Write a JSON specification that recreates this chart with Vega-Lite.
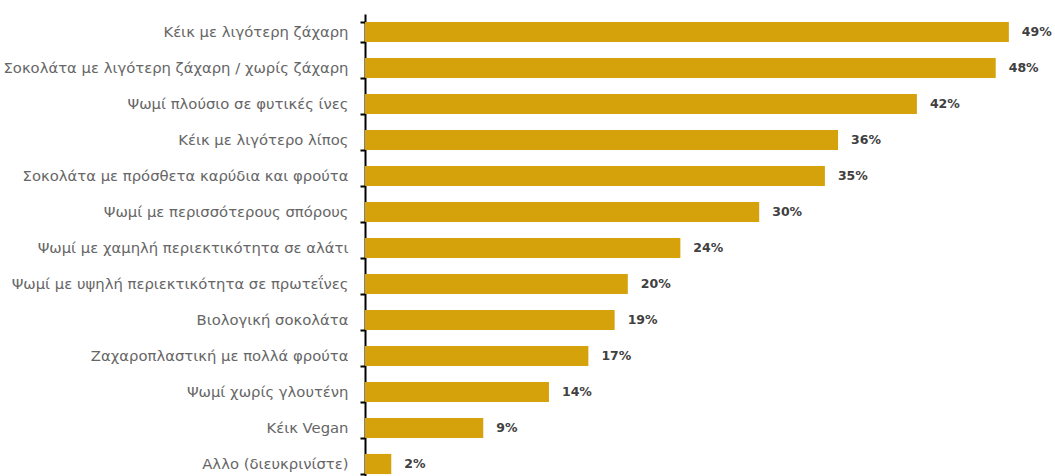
{
  "$schema": "https://vega.github.io/schema/vega-lite/v6.json",
  "autosize": "none",
  "width": 657,
  "height": 462,
  "padding": {"left": 365, "top": 14, "right": 33, "bottom": 0},
  "background": "white",
  "config": {"view": {"stroke": null}},
  "data": {"values": [
    {"label": "Κέικ με λιγότερη ζάχαρη", "value": 49, "pct": "49%"},
    {"label": "Σοκολάτα με λιγότερη ζάχαρη / χωρίς ζάχαρη", "value": 48, "pct": "48%"},
    {"label": "Ψωμί πλούσιο σε φυτικές ίνες", "value": 42, "pct": "42%"},
    {"label": "Κέικ με λιγότερο λίπος", "value": 36, "pct": "36%"},
    {"label": "Σοκολάτα με πρόσθετα καρύδια και φρούτα", "value": 35, "pct": "35%"},
    {"label": "Ψωμί με περισσότερους σπόρους", "value": 30, "pct": "30%"},
    {"label": "Ψωμί με χαμηλή περιεκτικότητα σε αλάτι", "value": 24, "pct": "24%"},
    {"label": "Ψωμί με υψηλή περιεκτικότητα σε πρωτεΐνες", "value": 20, "pct": "20%"},
    {"label": "Βιολογική σοκολάτα", "value": 19, "pct": "19%"},
    {"label": "Ζαχαροπλαστική με πολλά φρούτα", "value": 17, "pct": "17%"},
    {"label": "Ψωμί χωρίς γλουτένη", "value": 14, "pct": "14%"},
    {"label": "Κέικ Vegan", "value": 9, "pct": "9%"},
    {"label": "Αλλο (διευκρινίστε)", "value": 2, "pct": "2%"}
  ]},
  "encoding": {
    "y": {
      "field": "label", "type": "nominal", "sort": null,
      "scale": {"range": [0, 468], "paddingInner": 0.44, "paddingOuter": 0.22},
      "axis": {
        "title": null, "domainColor": "#000000", "domainWidth": 2,
        "tickColor": "#000000", "tickWidth": 2, "tickSize": 5, "tickBand": "extent",
        "labelFont": "DejaVu Sans", "labelFontSize": 14.8, "labelColor": "#666666",
        "labelPadding": 12, "labelLimit": 400
      }
    },
    "x": {
      "field": "value", "type": "quantitative",
      "scale": {"domain": [0, 50], "nice": false},
      "axis": null
    }
  },
  "layer": [
    {"mark": {"type": "bar", "color": "#D5A20B", "clip": false}},
    {
      "mark": {"type": "text", "align": "left", "baseline": "middle", "dx": 13, "font": "DejaVu Sans", "fontSize": 12.5, "fontWeight": "bold", "color": "#404040"},
      "encoding": {"text": {"field": "pct", "type": "nominal"}}
    }
  ]
}
